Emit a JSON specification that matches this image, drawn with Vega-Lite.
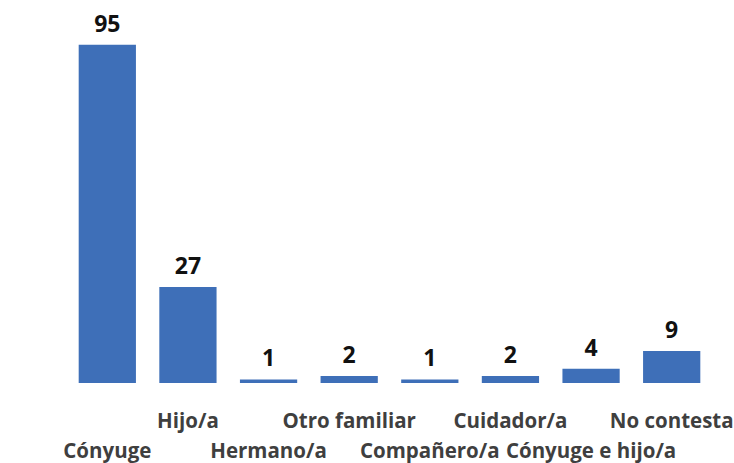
{
  "$schema": "https://vega.github.io/schema/vega-lite/v6.json",
  "width": 645,
  "height": 356,
  "autosize": "none",
  "padding": {"left": 67, "top": 27, "right": 22, "bottom": 80},
  "background": "white",
  "config": {"view": {"stroke": null}},
  "data": {"values": [
    {"categoria": "Cónyuge", "n": 95},
    {"categoria": "Hijo/a", "n": 27},
    {"categoria": "Hermano/a", "n": 1},
    {"categoria": "Otro familiar", "n": 2},
    {"categoria": "Compañero/a", "n": 1},
    {"categoria": "Cuidador/a", "n": 2},
    {"categoria": "Cónyuge e hijo/a", "n": 4},
    {"categoria": "No contesta", "n": 9}
  ]},
  "encoding": {
    "x": {
      "field": "categoria", "type": "nominal", "sort": null,
      "scale": {"paddingInner": 0.29, "paddingOuter": 0.145},
      "axis": {
        "title": null, "labelAngle": 0, "domain": false, "ticks": false, "grid": false,
        "labelFont": "Open Sans", "labelFontSize": 20.5, "labelFontWeight": "bold", "labelColor": "#3f3f3f",
        "labelBaseline": "alphabetic", "labelOverlap": false, "labelLimit": 300,
        "labelPadding": {"expr": "indexof(['Cónyuge','Hermano/a','Compañero/a','Cónyuge e hijo/a'], datum.value) >= 0 ? 74 : 44"}
      }
    },
    "y": {"field": "n", "type": "quantitative", "scale": {"domain": [0, 100]}, "axis": null}
  },
  "layer": [
    {"mark": {"type": "bar", "color": "#3e6fb8"}},
    {"mark": {"type": "text", "dy": -13, "font": "Open Sans", "fontSize": 23, "fontWeight": "bold", "color": "#111111", "baseline": "alphabetic"},
     "encoding": {"text": {"field": "n", "type": "quantitative"}}}
  ]
}
